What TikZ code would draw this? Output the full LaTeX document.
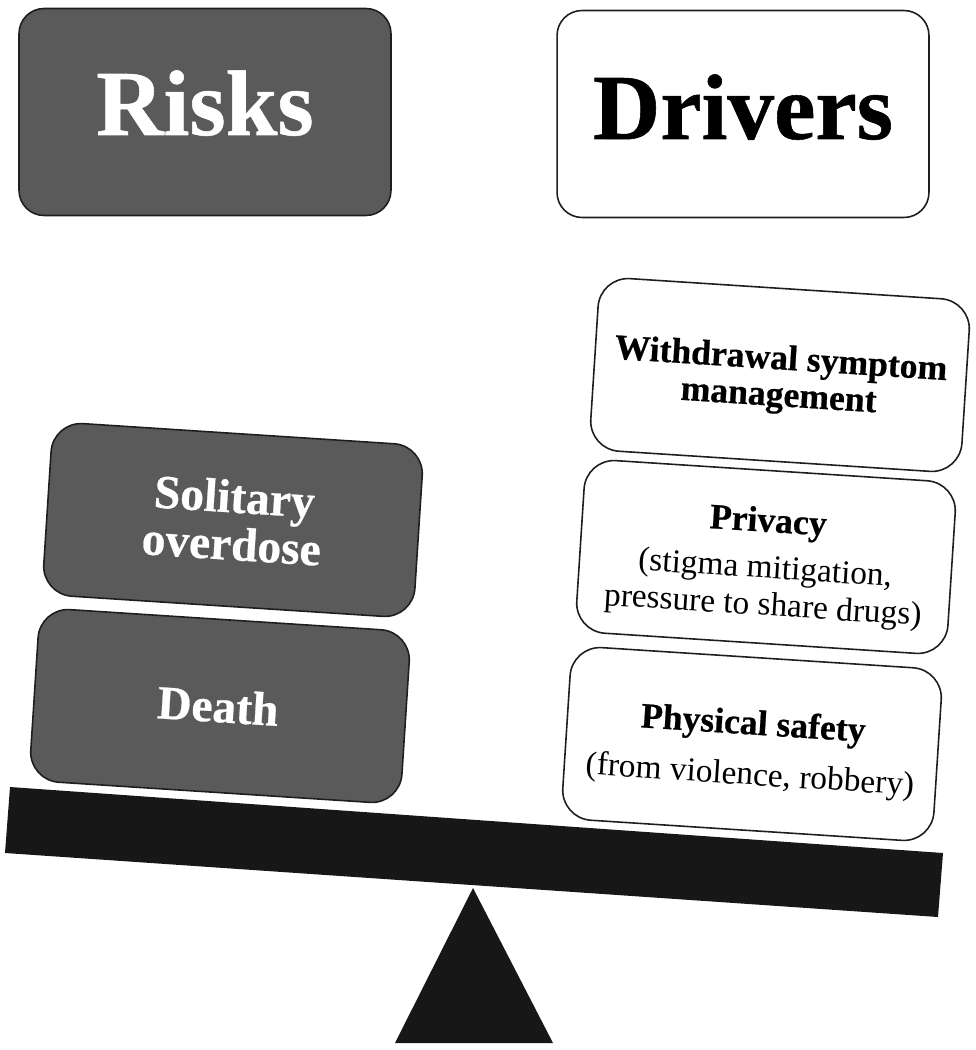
\documentclass[tikz,border=0pt]{standalone}
\usepackage{fontspec}
\setmainfont{Liberation Serif}[BoldFeatures={FakeBold=0.6}]
\definecolor{darkbox}{HTML}{5A5A5A}
\definecolor{edgegray}{HTML}{1E1E1E}
\definecolor{nearblack}{HTML}{171717}
\newcommand{\subline}{\fontsize{19}{19.5}\selectfont\mdseries}
\tikzset{
  x=0.02cm,y=-0.02cm,
  box/.style={draw=edgegray,line width=0.9pt,inner sep=0pt,align=center},
  headbox/.style={box,rounded corners=0.5cm,minimum width=7.44cm,minimum height=4.14cm,font=\bfseries\fontsize{53}{60}\selectfont},
  itembox/.style={box,rounded corners=0.6cm,minimum width=7.44cm,minimum height=3.46cm,rotate=-3.7},
  riskfill/.style={fill=darkbox,text=white},
  driverfill/.style={fill=white,text=black},
  risktext/.style={font=\bfseries\fontsize{27}{28}\selectfont},
  boldtext/.style={font=\bfseries\fontsize{20.3}{23.2}\selectfont}
}
\begin{document}
\begin{tikzpicture}
\useasboundingbox (0,0) rectangle (975,1050);
\node[headbox,riskfill,text height=1.2cm,text depth=0.28cm] (risks) at (205,112) {Risks};
\node[headbox,driverfill,text height=1.2cm,text depth=0.2cm] (drivers) at (743,114) {Drivers};
\node[itembox,driverfill,boldtext] (withdrawal) at (780,375) {\rule{0pt}{19pt}Withdrawal symptom\\[-2.3pt]management};
\node[itembox,driverfill,boldtext] (privacy) at (766,557) {\rule{0pt}{23pt}Privacy\\[3.2pt]\subline (stigma mitigation,\\[-2pt]\subline pressure to share drugs)};
\node[itembox,driverfill,boldtext] (safety) at (752,744) {\rule{0pt}{22pt}Physical safety\\[5.5pt]\subline (from violence, robbery)};
\node[itembox,riskfill,risktext] (solitary) at (233,520) {Solitary\\[-1pt]overdose};
\node[itembox,riskfill,risktext] (death) at (220,706) {Death\hspace{2.2pt}};
\fill[nearblack] (10,787) -- (943,853) -- (938,917) -- (5,853) -- cycle;
\fill[nearblack] (473,888) -- (553,1043) -- (395,1043) -- cycle;
\end{tikzpicture}
\end{document}
